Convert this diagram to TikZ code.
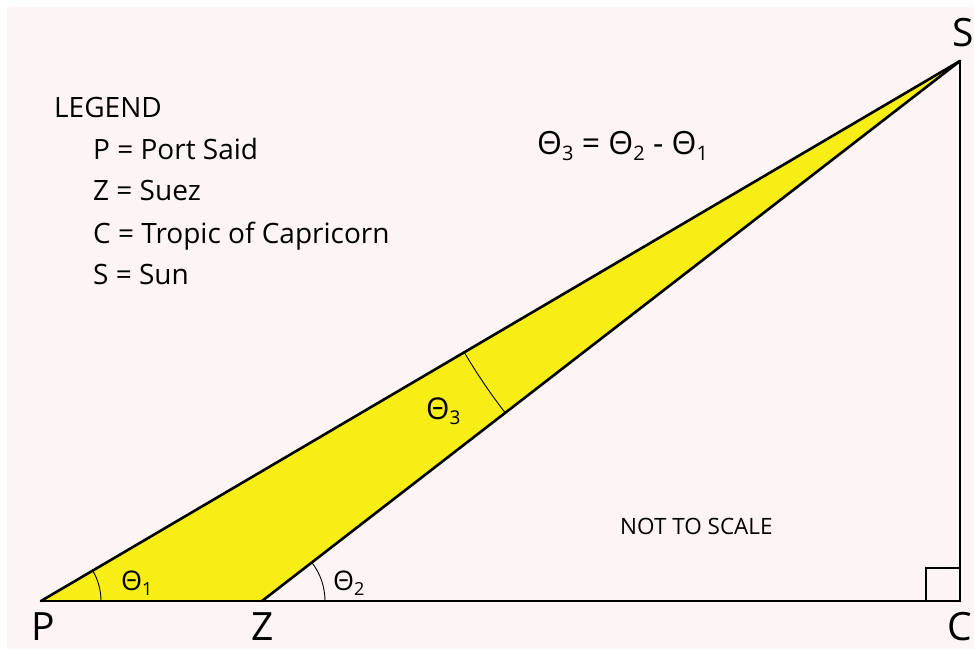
\documentclass[tikz,border=0pt]{standalone}
\usepackage{fontspec}
\setmainfont{Open Sans}
\usetikzlibrary{positioning, calc}
\definecolor{bgpink}{HTML}{FDF5F5}
\definecolor{wedgeyellow}{HTML}{F6EE14}
% theta with a lowered index: #1 index, #2 size of index
\newcommand{\thsub}[2]{Θ\raisebox{-0.35ex}{\fontsize{#2}{#2}\selectfont\addfontfeatures{FakeBold=-0.3}#1}}

\begin{document}
\begin{tikzpicture}[
  x=1pt, y=1pt,
  side/.style={draw, line width=2.6pt, line cap=round},
  anglearc/.style={draw, line width=0.9pt},
  corner/.style={draw, line width=1.4pt},
  vlabel/.style={font=\fontsize{39}{39}\selectfont, inner sep=0pt, anchor=base},
  legendtxt/.style={font=\fontsize{28}{28}\selectfont, inner sep=0pt, anchor=base west},
  thlabel/.style={font=\fontsize{27}{27}\selectfont, inner sep=0pt, anchor=base west}
  ]
  \useasboundingbox (0,0) rectangle (974,649);
  \fill[bgpink] (7,0) rectangle (974,642);

  \coordinate (P) at (41,48);
  \coordinate (Z) at (262,48);
  \coordinate (C) at (960,48);
  \coordinate (S) at (960,588);

  % shaded wedge between the two sight lines
  \fill[wedgeyellow] (P) -- (Z) -- (S) -- cycle;

  % angle marks
  \draw[anglearc] ($(P)+(60,0)$) arc[start angle=0, end angle=30.44, radius=60];
  \draw[anglearc] ($(Z)+(63,0)$) arc[start angle=0, end angle=37.72, radius=63];
  \draw[anglearc] ($(S)+(210.44:575)$) arc[start angle=210.44, end angle=217.72, radius=575];
  \draw[corner] ($(C)+(-34,0)$) |- ($(C)+(0,33)$);

  \draw[side] (P) -- (C);
  \draw[side] (C) -- (S);
  \draw[side] (P) -- (S);
  \draw[side] (Z) -- (S);

  \node[vlabel] (lblP) at ($(P)+(2,-39)$) {P};
  \node[vlabel] (lblZ) at ($(Z)+(1,-39)$) {Z};
  \node[vlabel] (lblC) at ($(C)+(0,-39)$) {C};
  \node[vlabel] (lblS) at ($(S)+(3,14)$) {S};

  \node[thlabel] (th1) at (121,59) {\thsub{1}{18}};
  \node[thlabel] (th2) at (333,59) {\thsub{2}{18}};
  \node[thlabel, font=\fontsize{30}{30}\selectfont] (th3) at (426,230) {\thsub{3}{19}};

  \node[thlabel, font=\fontsize{32}{32}\selectfont] (rel) at (537,494)
    {\thsub{3}{20} = \thsub{2}{20} - \thsub{1}{20}};

  \node[legendtxt] (legend) at (54,531) {LEGEND};
  \node[legendtxt] (legP) at (93,489) {P = Port Said};
  \node[legendtxt] (legZ) at (93,448) {Z = Suez};
  \node[legendtxt] (legC) at (93,406) {C = Tropic of Capricorn};
  \node[legendtxt] (legS) at (93,365) {S = Sun};

  \node[legendtxt, font=\fontsize{22.5}{22.5}\selectfont] (scale) at (620,115) {NOT TO SCALE};
\end{tikzpicture}
\end{document}
